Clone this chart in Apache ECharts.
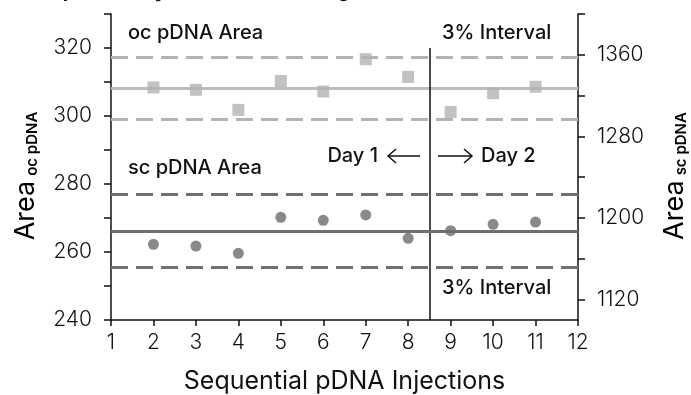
<!DOCTYPE html>
<html>
<head>
<meta charset="utf-8">
<script src="https://cdn.jsdelivr.net/npm/echarts@6/dist/echarts.min.js"></script>
<style>
  html, body { margin: 0; padding: 0; background: #fff; }
  #chart { width: 691px; height: 395px; }
</style>
</head>
<body>
<div id="chart"></div>
<script>
// data
var injections = [2, 3, 4, 5, 6, 7, 8, 9, 10, 11];
var ocArea = [308.4, 307.7, 301.8, 310.3, 307.2, 316.7, 311.5, 301.2, 306.7, 308.6];
var scArea = [1174.2, 1172.5, 1165.4, 1200.7, 1197.7, 1203.0, 1180.1, 1187.6, 1193.8, 1196.0];
// lower / mean / upper (3% interval)
var ocLimits = [298.9, 308.1, 317.3];
var scLimits = [1151.8, 1187.4, 1223.0];
var daySplit = 8.5;
var leftLabels = [240, 260, 280, 300, 320];
var leftTicks = [240, 250, 260, 270, 280, 290, 300, 310, 320, 330];
var rightLabels = [1120, 1200, 1280, 1360];
var rightTicks = [1120, 1160, 1200, 1240, 1280, 1320, 1360, 1400];

var FONT = 'Inter';
var INK = '#111';
var chart = echarts.init(document.getElementById('chart'));

function pairs(xs, ys) {
  var out = [];
  for (var i = 0; i < xs.length; i++) out.push([xs[i], ys[i]]);
  return out;
}

function limitLines(lim, color, midColor) {
  var dash = { color: color, width: 3, type: [17, 8] };
  return [
    { yAxis: lim[0], lineStyle: dash },
    { yAxis: lim[1], lineStyle: { color: midColor, width: 3, type: 'solid' } },
    { yAxis: lim[2], lineStyle: dash }
  ];
}

function note(txt, x, y, align) {
  return { type: 'text', x: x, y: y, style: { text: txt, font: '500 20px ' + FONT, fill: INK, align: align || 'left', verticalAlign: 'middle' } };
}

function arrow(x0, x1, y) {
  var dir = x1 > x0 ? -1 : 1;
  return [
    { type: 'polyline', shape: { points: [[x0, y], [x1, y]] }, style: { stroke: INK, lineWidth: 1.5, fill: null } },
    { type: 'polyline', shape: { points: [[x1 + dir * 8, y - 7], [x1, y], [x1 + dir * 8, y + 7]] }, style: { stroke: INK, lineWidth: 1.5, fill: null } }
  ];
}

var nameRich = {
  a: { fontFamily: FONT, fontSize: 27, color: INK },
  s: { fontFamily: FONT, fontSize: 15, fontWeight: 600, color: INK, padding: [13, 0, 0, 5] }
};

var axisLine = { show: true, lineStyle: { color: INK, width: 1.5 } };
var tickFont = { fontFamily: FONT, fontWeight: 300, fontSize: 21, color: INK };

var option = {
  animation: false,
  grid: { left: 111, right: 113, top: 14, bottom: 75, outerBoundsMode: 'none', containLabel: false },
  graphic: [
    // chart title sits above the visible area; only its descenders show
    { type: 'text', x: 38, y: 1, style: { text: 'Repeatability of Peak Area Integration', font: 'bold 20px ' + FONT, fill: INK, verticalAlign: 'bottom' } },
    note('oc pDNA Area', 128, 33),
    note('3% Interval', 442, 33),
    note('sc pDNA Area', 128, 168),
    note('Day 1', 378, 156, 'right'),
    note('Day 2', 481, 156),
    note('3% Interval', 442, 288),
    { type: 'text', x: 26, y: 176, rotation: Math.PI / 2, style: { text: '{a|Area}{s|oc pDNA}', rich: nameRich, align: 'center', verticalAlign: 'middle' } },
    { type: 'text', x: 675, y: 176, rotation: Math.PI / 2, style: { text: '{a|Area}{s|sc pDNA}', rich: nameRich, align: 'center', verticalAlign: 'middle' } }
  ].concat(arrow(420, 388, 156), arrow(438, 472, 156)),
  xAxis: {
    type: 'value', min: 1, max: 12, interval: 1,
    name: 'Sequential pDNA Injections', nameLocation: 'middle', nameGap: 49,
    nameTextStyle: { fontFamily: FONT, fontSize: 25, color: INK },
    axisLine: axisLine,
    axisTick: { show: true, length: 6, lineStyle: { color: INK, width: 1.5 } },
    axisLabel: Object.assign({ margin: 12 }, tickFont),
    splitLine: { show: false }
  },
  yAxis: [{
    type: 'value', min: 240, max: 330, interval: 10, position: 'left',
    axisLine: axisLine,
    axisTick: { show: true, length: 7, customValues: leftTicks, lineStyle: { color: INK, width: 1.5 } },
    axisLabel: Object.assign({ margin: 19, customValues: leftLabels }, tickFont),
    splitLine: { show: false }
  }, {
    type: 'value', min: 1100, max: 1400, position: 'right',
    axisLine: axisLine,
    axisTick: { show: true, length: 7, customValues: rightTicks, lineStyle: { color: INK, width: 1.5 } },
    axisLabel: Object.assign({
      margin: 19, customValues: rightLabels,
      formatter: function (v) { return String(v); }
    }, tickFont),
    splitLine: { show: false }
  }],
  series: [{
    name: 'oc pDNA Area', type: 'scatter', yAxisIndex: 0, z: 3,
    symbol: 'rect', symbolSize: 12,
    itemStyle: { color: '#b3b3b3' },
    data: pairs(injections, ocArea),
    markLine: {
      silent: true, symbol: 'none', z: 1, label: { show: false },
      data: limitLines(ocLimits, '#b3b3b3', '#bdbdbd').concat([
        [{ coord: [daySplit, 240], lineStyle: { color: INK, width: 1.5, type: 'solid' } }, { coord: [daySplit, 320] }]
      ])
    }
  }, {
    name: 'sc pDNA Area', type: 'scatter', yAxisIndex: 1, z: 3,
    symbol: 'circle', symbolSize: 11,
    itemStyle: { color: '#6b6b6b' },
    data: pairs(injections, scArea),
    markLine: {
      silent: true, symbol: 'none', z: 1, label: { show: false },
      data: limitLines(scLimits, '#707070', '#6e6e6e')
    }
  }]
};

chart.setOption(option);
</script>
</body>
</html>
